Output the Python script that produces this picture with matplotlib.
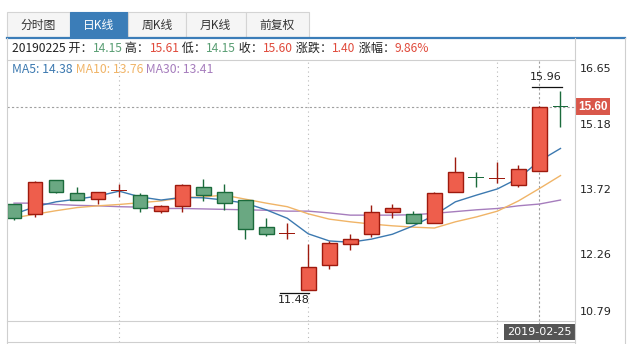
"""
Daily K-line (candlestick) panel with MA5 / MA10 / MA30, stock-app style.
"""

import matplotlib.pyplot as plt
import matplotlib as mpl
from matplotlib.patches import Rectangle
from matplotlib.lines import Line2D
from matplotlib.transforms import offset_copy

# -----------------------------------------------------------------------------
# Data
# -----------------------------------------------------------------------------
opens = [13.41, 13.18, 13.94, 13.65, 13.52, 13.72, 13.61, 13.25, 13.36, 13.79,
         13.67, 13.49, 12.89, 12.75, 11.48, 12.04, 12.50, 12.73, 13.22, 13.18,
         12.98, 13.67, 14.02, 13.98, 13.83, 14.15, 15.61]
highs = [13.42, 13.93, 13.94, 13.79, 13.68, 13.86, 13.65, 13.38, 13.86, 13.97,
         13.85, 13.49, 13.09, 12.98, 12.50, 12.58, 12.74, 13.39, 13.41, 13.25,
         13.67, 14.47, 14.12, 14.35, 14.28, 15.61, 15.96]
lows = [13.05, 13.11, 13.65, 13.49, 13.41, 13.57, 13.22, 13.20, 13.24, 13.47,
        13.27, 12.62, 12.68, 12.62, 11.48, 11.94, 12.37, 12.66, 13.10, 12.98,
        12.98, 13.67, 13.79, 13.88, 13.80, 14.15, 15.15]
closes = [13.09, 13.90, 13.69, 13.49, 13.67, 13.73, 13.31, 13.36, 13.83, 13.61,
          13.43, 12.84, 12.73, 12.76, 11.99, 12.53, 12.62, 13.22, 13.31, 12.98,
          13.65, 14.12, 14.01, 13.99, 14.20, 15.60, 15.60]

ma5 = [13.18, 13.35, 13.46, 13.52, 13.59, 13.70, 13.57, 13.50, 13.56, 13.55,
       13.50, 13.43, 13.28, 13.09, 12.74, 12.58, 12.55, 12.62, 12.73, 12.92,
       13.16, 13.46, 13.61, 13.75, 13.99, 14.38, 14.66]
ma10 = [13.10, 13.18, 13.26, 13.33, 13.37, 13.40, 13.44, 13.48, 13.55, 13.57,
        13.61, 13.52, 13.43, 13.35, 13.19, 13.07, 13.01, 12.96, 12.92, 12.89,
        12.87, 13.01, 13.12, 13.25, 13.48, 13.76, 14.05]
ma30 = [13.43, 13.43, 13.40, 13.38, 13.37, 13.35, 13.34, 13.31, 13.31, 13.30,
        13.29, 13.28, 13.27, 13.25, 13.25, 13.21, 13.16, 13.16, 13.16, 13.17,
        13.20, 13.24, 13.28, 13.31, 13.37, 13.41, 13.50]

price_ticks = [10.79, 12.26, 13.72, 15.18, 16.65]
tabs = ["分时图", "日K线", "周K线", "月K线", "前复权"]
selected_tab = 1
selected_idx = 25            # candle under the crosshair
selected_date = "2019-02-25"
grid_idx = [5, 14, 23]       # dotted vertical separators

# -----------------------------------------------------------------------------
# Style
# -----------------------------------------------------------------------------
W, H = 629, 344
DPI = 100
CJK = ["Noto Sans CJK SC", "DejaVu Sans"]
UP_FILL, UP_EDGE = "#ee5e4c", "#9e1a0e"
DN_FILL, DN_EDGE = "#6aa882", "#1b6b3c"
C_MA5, C_MA10, C_MA30 = "#3c79b0", "#f0b467", "#a67dbd"
C_TXT_RED, C_TXT_GREEN = "#e04b3c", "#5a9e74"
C_BORDER = "#cfcfcf"
C_GRID = "#b8b8b8"

mpl.rcParams["font.family"] = CJK


def fx(x):
    return x / W


def fy(y):
    return 1 - y / H


def fig_rect(fig, x0, y0, x1, y1, **kw):
    fig.add_artist(Rectangle((fx(x0), fy(y1)), (x1 - x0) / W, (y1 - y0) / H,
                             transform=fig.transFigure, **kw))


def fig_line(fig, xs, ys, **kw):
    fig.add_artist(Line2D([fx(x) for x in xs], [fy(y) for y in ys],
                          transform=fig.transFigure, **kw))


def draw_runs(fig, renderer, x, y, runs, size):
    """Draw coloured text pieces one after another on one line."""
    for text, color in runs:
        t = fig.text(fx(x), fy(y), text, color=color, fontsize=size,
                     va="center", ha="left", family=CJK)
        x += t.get_window_extent(renderer).width


fig = plt.figure(figsize=(W / DPI, H / DPI), dpi=DPI)
fig.patch.set_facecolor("white")
renderer = fig.canvas.get_renderer()

# --- tabs --------------------------------------------------------------------
tab_edges = [7, 70, 128, 186, 245.5, 308.5]
for i, name in enumerate(tabs):
    x0, x1 = tab_edges[i], tab_edges[i + 1]
    sel = i == selected_tab
    fig_rect(fig, x0, 12, x1, 37, facecolor="#3b7db8" if sel else "#f5f5f5",
             edgecolor="#3b7db8" if sel else "#d4d4d4", linewidth=0.8)
    fig.text(fx((x0 + x1) / 2), fy(25), name, fontsize=8.5, ha="center", va="center",
             color="white" if sel else "#333333")
fig_line(fig, [7, 625], [37.5, 37.5], color="#3b7db8", linewidth=1.6)

# --- outer frame -------------------------------------------------------------
fig_line(fig, [7, 7], [38, 344], color=C_BORDER, linewidth=0.8)
fig_line(fig, [575, 575], [38, 344], color=C_BORDER, linewidth=0.8)
fig_line(fig, [625, 625], [38, 344], color=C_BORDER, linewidth=0.8)
fig_line(fig, [7, 575], [60, 60], color=C_BORDER, linewidth=0.8)

# --- info rows ---------------------------------------------------------------
s = selected_idx
chg = closes[s] - closes[s - 1]
pct = chg / closes[s - 1] * 100
dark = "#222222"
draw_runs(fig, renderer, 12, 48.5, [
    (selected_date.replace("-", "") + " 开：", dark), (f"{opens[s]:.2f}", C_TXT_GREEN),
    (" 高：", dark), (f"{highs[s]:.2f}", C_TXT_RED),
    (" 低：", dark), (f"{lows[s]:.2f}", C_TXT_GREEN),
    (" 收：", dark), (f"{closes[s]:.2f}", C_TXT_RED),
    (" 涨跌：", dark), (f"{chg:.2f}", C_TXT_RED),
    (" 涨幅：", dark), (f"{pct:.2f}%", C_TXT_RED),
], 8.7)
draw_runs(fig, renderer, 12, 69.5, [
    (f"MA5: {ma5[s]:.2f}", C_MA5), (f" MA10: {ma10[s]:.2f}", C_MA10),
    (f" MA30: {ma30[s]:.2f}", C_MA30),
], 8.8)

# --- main price axes ---------------------------------------------------------
top, bot = 60, 320.5
ax = fig.add_axes([fx(7), fy(bot), (575 - 7) / W, (bot - top) / H])
n = len(closes)
xs = list(range(n))
ax.set_xlim(-1 / 3, n - 1 + 14.5 / 21)
ax.set_ylim(price_ticks[0], price_ticks[-1])
ax.set_xticks([])
ax.set_yticks([])
for sp in ax.spines.values():
    sp.set_visible(False)
ax.patch.set_alpha(0)

for g in grid_idx:
    ax.axvline(g, color=C_GRID, linestyle=(0, (1, 3)), linewidth=0.8, zorder=0)

# MA lines
ax.plot(xs, ma30, color=C_MA30, linewidth=1.0, zorder=2)
ax.plot(xs, ma10, color=C_MA10, linewidth=1.0, zorder=2)
ax.plot(xs, ma5, color=C_MA5, linewidth=1.0, zorder=2)

# candles
min_h = 0.025
for i in xs:
    up = closes[i] >= opens[i]
    fill, edge = (UP_FILL, UP_EDGE) if up else (DN_FILL, DN_EDGE)
    ax.vlines(i, lows[i], highs[i], color=edge, linewidth=1.0, zorder=3)
    lo = min(opens[i], closes[i])
    h = abs(closes[i] - opens[i])
    if h < min_h:
        ax.bar(i, min_h, bottom=lo - min_h / 2, width=0.76, color=edge,
               linewidth=0, zorder=4)
    else:
        ax.bar(i, h, bottom=lo, width=0.70, color=fill, edgecolor=edge,
               linewidth=1.0, zorder=4)

# crosshair on the selected candle
ax.axhline(closes[s], color="#a0a0a0", linestyle=(0, (2, 2)), linewidth=0.8, zorder=1)
ax.axvline(s, color="#a0a0a0", linestyle=(0, (2, 2)), linewidth=0.8, zorder=1)

# max / min markers
i_hi = max(xs, key=lambda i: highs[i])
i_lo = min(xs, key=lambda i: lows[i])
above = offset_copy(ax.transData, fig=fig, y=4, units="dots")
below = offset_copy(ax.transData, fig=fig, y=-3, units="dots")
ax.plot([i_hi - 1.35, i_hi + 0.05], [highs[i_hi]] * 2, color="#111111",
        linewidth=0.9, transform=above, clip_on=False)
ax.annotate(f"{highs[i_hi]:.2f}", (i_hi + 0.05, highs[i_hi]), xytext=(0, 6),
            textcoords="offset points", ha="right", va="bottom", fontsize=8,
            family="DejaVu Sans", color="#222222")
ax.plot([i_lo - 1.35, i_lo + 0.05], [lows[i_lo]] * 2, color="#111111",
        linewidth=0.9, transform=below, clip_on=False)
ax.annotate(f"{lows[i_lo]:.2f}", (i_lo + 0.05, lows[i_lo]), xytext=(0, -4),
            textcoords="offset points", ha="right", va="top", fontsize=8,
            family="DejaVu Sans", color="#222222")

# price labels on the right
for k, p in enumerate(price_ticks):
    va = "bottom" if k == 0 else ("top" if k == len(price_ticks) - 1 else "center")
    shift = {"bottom": 3, "top": -4, "center": 0}[va]
    ax.text(1.0, p, f"{p:.2f}", ha="left", va=va, fontsize=8,
            family="DejaVu Sans", color="#222222",
            transform=offset_copy(ax.get_yaxis_transform(), fig=fig, x=5,
                                  y=shift, units="dots"))
ax.text(1.0, closes[s], f"{closes[s]:.2f}", ha="left", va="center", fontsize=8.5,
        fontweight="bold", color="white", family="Liberation Sans",
        transform=offset_copy(ax.get_yaxis_transform(), fig=fig, x=3, units="dots"),
        bbox=dict(boxstyle="square,pad=0.22", facecolor="#d9574a", edgecolor="none"))

# --- date strip --------------------------------------------------------------
dax = fig.add_axes([fx(7), fy(341.5), (575 - 7) / W, (341.5 - bot) / H], sharex=ax)
dax.set_ylim(0, 1)
dax.set_xticks([])
dax.set_yticks([])
for side in ["top", "left", "right"]:
    dax.spines[side].set_visible(False)
dax.spines["bottom"].set_color(C_BORDER)
dax.patch.set_alpha(0)
fig_line(fig, [7, 575], [bot, bot], color=C_BORDER, linewidth=0.8)
for g in grid_idx:
    dax.axvline(g, color=C_GRID, linestyle=(0, (1, 3)), linewidth=0.8)
dax.axvline(s, color="#a0a0a0", linestyle=(0, (2, 2)), linewidth=0.8)
dax.text(s, 0.45, selected_date, ha="center", va="center", fontsize=8,
         family="DejaVu Sans", color="white",
         bbox=dict(boxstyle="square,pad=0.3", facecolor="#555555", edgecolor="none"))

fig.savefig("out.png", dpi=DPI)
plt.close(fig)
